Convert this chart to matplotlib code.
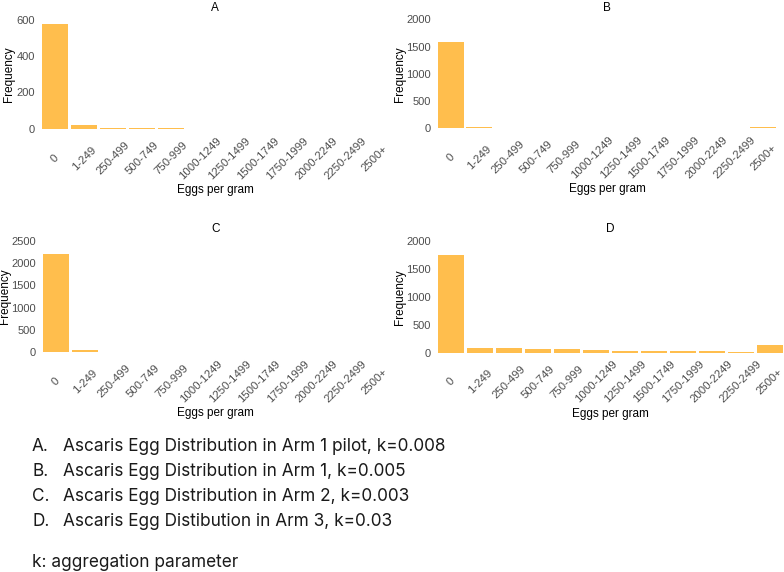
import matplotlib.pyplot as plt

plt.rcParams['font.family'] = ['Liberation Sans', 'DejaVu Sans']

categories = ['0', '1-249', '250-499', '500-749', '750-999', '1000-1249',
              '1250-1499', '1500-1749', '1750-1999', '2000-2249', '2250-2499', '2500+']

freq_a = [574, 22, 5, 4, 3, 2, 0, 0, 0, 0, 0, 2]
freq_b = [1589, 28, 14, 7, 0, 0, 0, 0, 0, 0, 0, 25]
freq_c = [2202, 45, 10, 12, 0, 0, 0, 0, 0, 0, 0, 10]
freq_d = [1745, 80, 75, 58, 65, 48, 38, 28, 28, 32, 18, 140]

titles = ['A', 'B', 'C', 'D']
yticks = [[0, 200, 400, 600], [0, 500, 1000, 1500, 2000],
          [0, 500, 1000, 1500, 2000, 2500], [0, 500, 1000, 1500, 2000]]

captions = ['Ascaris Egg Distribution in Arm 1 pilot, k=0.008',
            'Ascaris Egg Distribution in Arm 1, k=0.005',
            'Ascaris Egg Distribution in Arm 2, k=0.003',
            'Ascaris Egg Distibution in Arm 3, k=0.03']

W, H = 784, 572
fig = plt.figure(figsize=(W / 100, H / 100), dpi=100)

# pixel boxes: left, right, top (top tick), bottom (zero), ylabel x
boxes = [(42, 388, 19.5, 129, 9), (438, 776, 19.3, 128.3, 400),
         (43, 388, 240.7, 352.3, 5), (438, 783, 240.7, 352.7, 400)]

bar_color = '#FFBE4D'
for freq, title, ticks, (l, r, t, b, yl) in zip([freq_a, freq_b, freq_c, freq_d],
                                               titles, yticks, boxes):
    ax = fig.add_axes([l / W, 1 - b / H, (r - l) / W, (b - t) / H])
    x = range(len(categories))
    ax.bar(x, freq, width=0.9, color=bar_color, edgecolor='none')
    ax.set_xlim(-0.45, len(categories) - 0.55)
    ax.set_ylim(0, ticks[-1])
    ax.set_yticks(ticks)
    ax.set_xticks(list(x))
    ax.set_xticklabels(categories, rotation=45, ha='center', va='center',
                       rotation_mode='anchor')
    ax.tick_params(length=0, labelsize=8, colors='#4D4D4D', pad=5)
    ax.tick_params(axis='x', pad=21, labelsize=8.2)
    for s in ax.spines.values():
        s.set_visible(False)
    ax.set_title(title, fontsize=8.5, pad=6, color='black')
    ax.set_xlabel('Eggs per gram', fontsize=8.5, va='center')
    ax.xaxis.set_label_coords(0.5, -61 / (b - t))
    ax.set_ylabel('Frequency', fontsize=8.5, va='center')
    ax.yaxis.set_label_coords((yl - l) / (r - l), 0.5)

# caption list below the panels
cap_kw = dict(fontsize=12.4, va='center', family='Inter', color='#1a1a1a')
for i, (letter, txt) in enumerate(zip(titles, captions)):
    y = 1 - (446.7 + 25 * i) / H
    fig.text(32 / W, y, letter + '.', **cap_kw)
    fig.text(63 / W, y, txt, **cap_kw)
fig.text(32 / W, 1 - 562.7 / H, 'k: aggregation parameter', **cap_kw)

fig.savefig('out.png', dpi=100)
